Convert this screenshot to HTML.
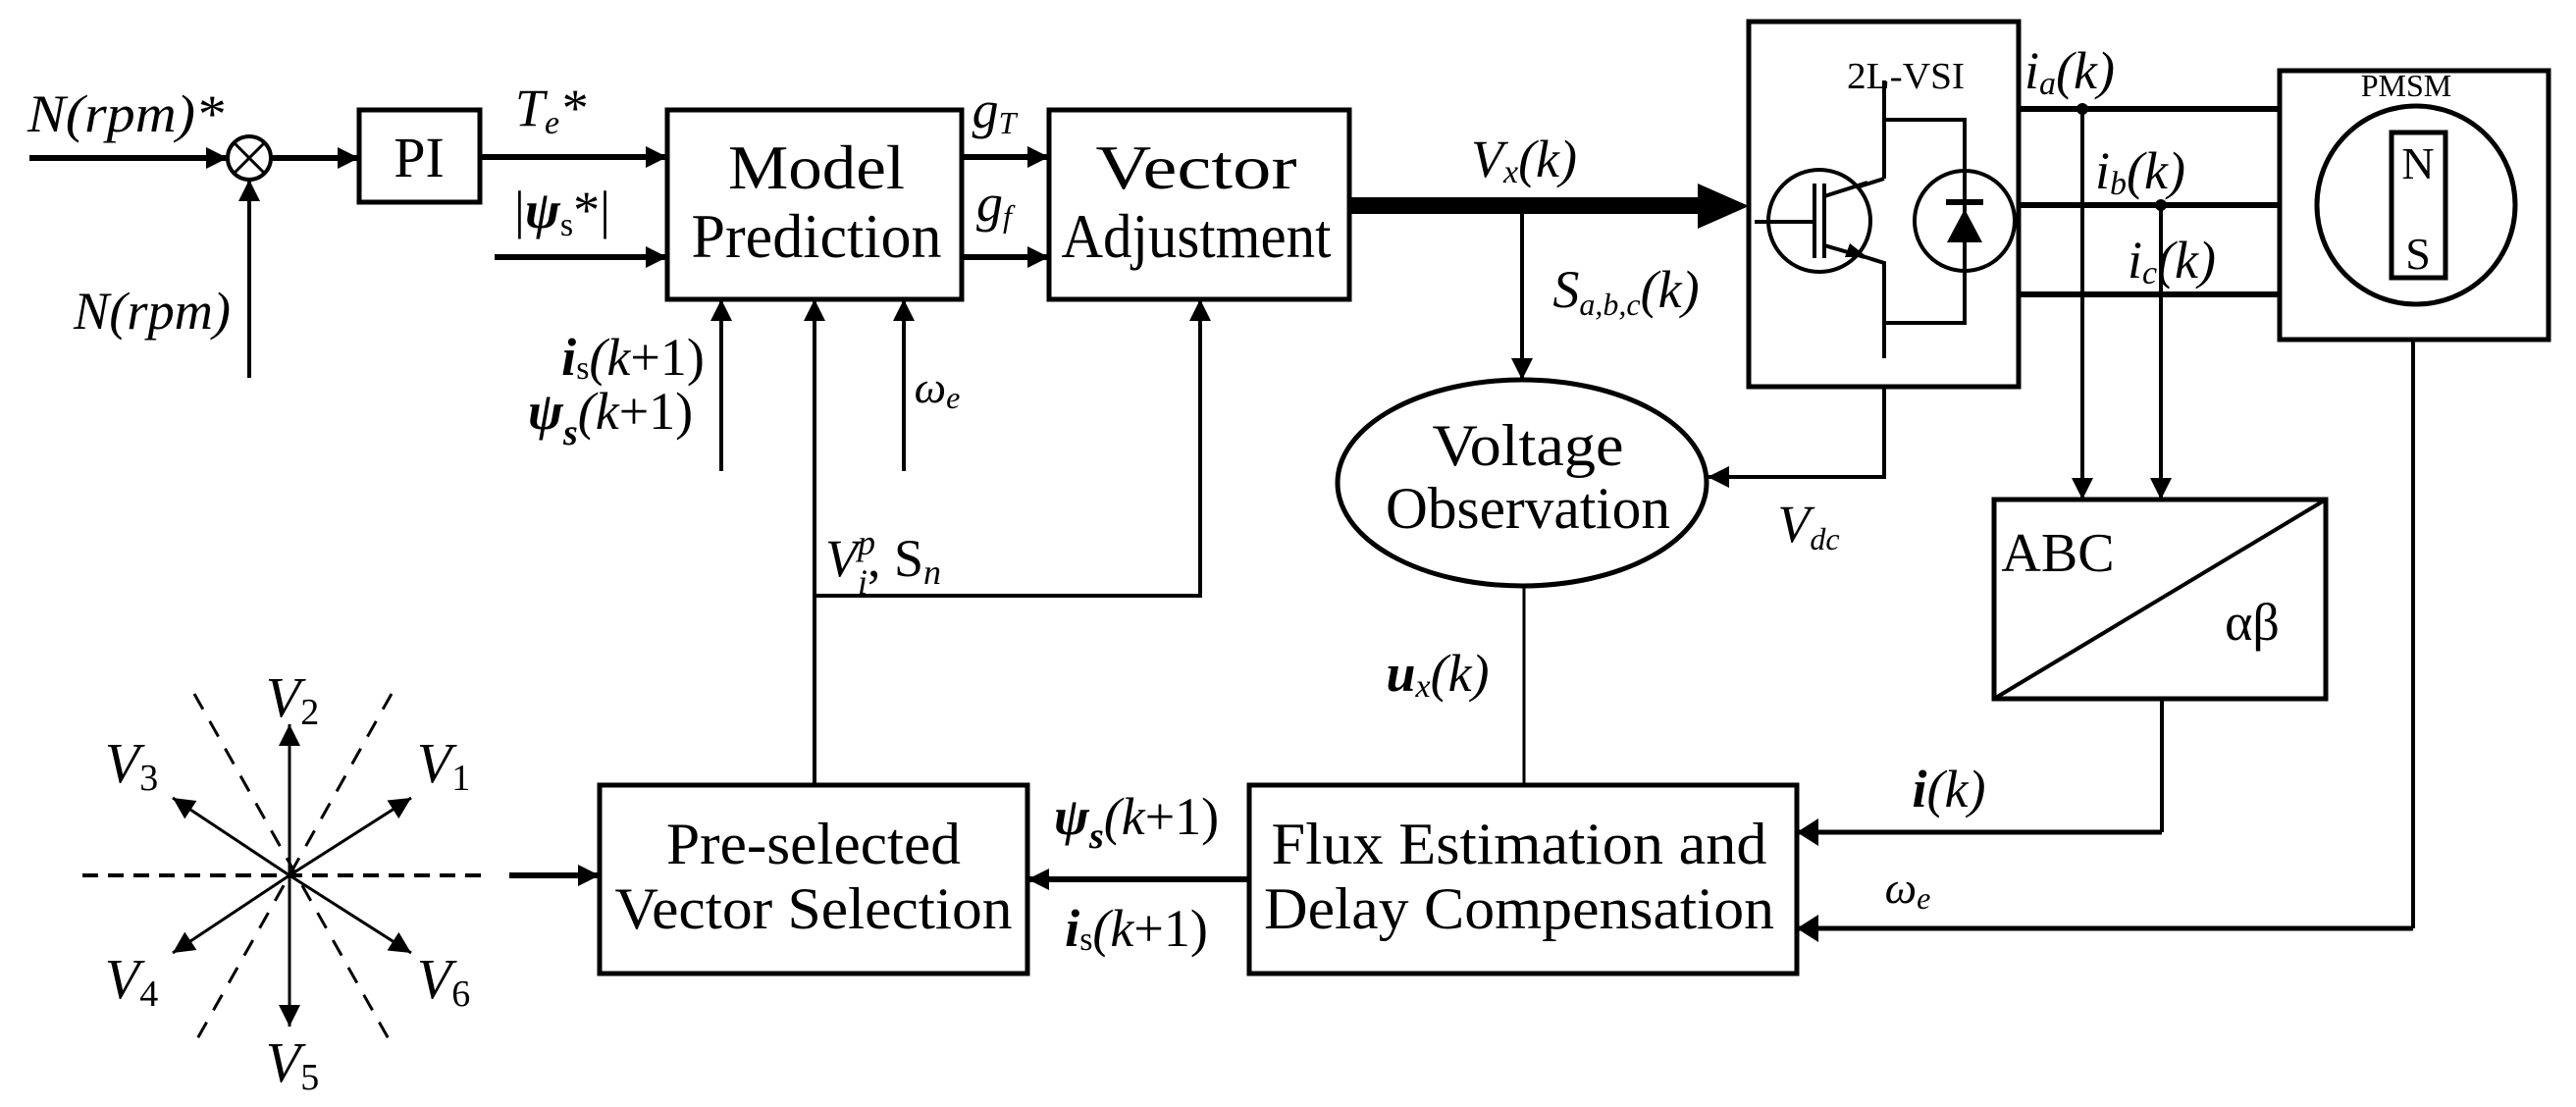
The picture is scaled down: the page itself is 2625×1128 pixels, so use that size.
<!DOCTYPE html>
<html><head><meta charset="utf-8"><style>
html,body{margin:0;padding:0;background:#fff}
svg{display:block}
text{font-family:"Liberation Serif",serif;fill:#000}
.i{font-style:italic}
</style></head><body>
<svg width="2625" height="1128" viewBox="0 0 2625 1128" xmlns="http://www.w3.org/2000/svg">
<defs>
<marker id="a" viewBox="0 0 10 10" refX="10" refY="5" markerWidth="24" markerHeight="22" markerUnits="userSpaceOnUse" orient="auto"><path d="M0,0 L10,5 L0,10 z"/></marker>
</defs>
<g stroke="#000" fill="none" stroke-width="5">
<rect x="366" y="112" width="123" height="94"/>
<rect x="680" y="112" width="300" height="193"/>
<rect x="1069" y="112" width="306" height="193"/>
<rect x="1782" y="22" width="275" height="372"/>
<rect x="2323" y="72" width="274" height="274"/>
<rect x="2032" y="509" width="338" height="203"/>
<line x1="2032" y1="712" x2="2370" y2="509" stroke-width="4"/>
<rect x="611" y="800" width="436" height="192"/>
<rect x="1273" y="800" width="558" height="192"/>
<ellipse cx="1551" cy="492" rx="188" ry="105"/>
<circle cx="254" cy="161" r="22" stroke-width="4"/>
<line x1="239" y1="146" x2="269" y2="176" stroke-width="3"/>
<line x1="269" y1="146" x2="239" y2="176" stroke-width="3"/>
<circle cx="2462" cy="209" r="101"/>
<rect x="2437" y="135" width="55" height="148"/>
</g>
<g stroke="#000" fill="none" stroke-width="6">
<line x1="30" y1="161" x2="232" y2="161" marker-end="url(#a)"/>
<line x1="276" y1="161" x2="366" y2="161" marker-end="url(#a)"/>
<line x1="489" y1="160" x2="680" y2="160" marker-end="url(#a)"/>
<line x1="504" y1="262" x2="680" y2="262" marker-end="url(#a)"/>
<line x1="980" y1="160" x2="1069" y2="160" marker-end="url(#a)"/>
<line x1="980" y1="262" x2="1069" y2="262" marker-end="url(#a)"/>
<line x1="2057" y1="111" x2="2323" y2="111"/>
<line x1="2057" y1="209" x2="2323" y2="209"/>
<line x1="2057" y1="300" x2="2323" y2="300"/>
<line x1="1831" y1="848" x2="2203" y2="848" stroke-width="5"/>
<line x1="1831" y1="946" x2="2459" y2="946" stroke-width="5"/>
</g>
<g stroke="#000" fill="none" stroke-width="4">
<line x1="254" y1="385" x2="254" y2="183" marker-end="url(#a)"/>
<line x1="735" y1="480" x2="735" y2="305" marker-end="url(#a)"/>
<line x1="830" y1="800" x2="830" y2="305" marker-end="url(#a)"/>
<line x1="921" y1="480" x2="921" y2="305" marker-end="url(#a)"/>
<polyline points="830,607 1223,607 1223,305" marker-end="url(#a)"/>
<line x1="1551" y1="210" x2="1551" y2="387" marker-end="url(#a)"/>
<polyline points="1920,394 1920,486 1740,486" marker-end="url(#a)"/>
<line x1="2122" y1="111" x2="2122" y2="509" marker-end="url(#a)"/>
<line x1="2202" y1="209" x2="2202" y2="509" marker-end="url(#a)"/>
<line x1="2203" y1="712" x2="2203" y2="848"/>
<line x1="2459" y1="346" x2="2459" y2="946"/>
<line x1="1553" y1="597" x2="1553" y2="800" stroke-width="3"/>
<line x1="1920" y1="82" x2="1920" y2="182"/>
<polyline points="1920,182 1863,200"/>
<polyline points="1863,250 1920,268 1920,365"/>
<polyline points="1920,122 2002,122 2002,329 1920,329"/>
<circle cx="1854" cy="225" r="52" fill="#fff"/>
<circle cx="2002" cy="225" r="51" fill="#fff"/>
<line x1="1788" y1="226" x2="1849" y2="226"/>
<line x1="1849" y1="187" x2="1849" y2="263"/>
<line x1="1859" y1="187" x2="1859" y2="263"/>
<line x1="1859" y1="200" x2="1903" y2="186"/>
<line x1="1859" y1="250" x2="1900" y2="262"/>
<line x1="2002" y1="175" x2="2002" y2="275"/>
<line x1="1983" y1="206" x2="2021" y2="206" stroke-width="6"/>
</g>
<path d="M1885,248 L1903,262 L1880,262 z"/>
<path d="M2002,213 L2020,247 L1984,247 z"/>
<circle cx="2122" cy="111" r="6"/>
<circle cx="2202" cy="209" r="6"/>
<rect x="1375" y="201" width="360" height="17"/>
<path d="M1730,187 L1782,210 L1730,233 z"/>
<g stroke="#000" fill="none" stroke-width="6">
<line x1="1273" y1="896" x2="1047" y2="896" marker-end="url(#a)"/>
<line x1="519" y1="892" x2="611" y2="892" marker-end="url(#a)"/>
</g>
<path d="M1831,848 L1853,834 L1853,862 z"/>
<path d="M1831,946 L1853,932 L1853,960 z"/>
<g stroke="#000" fill="none" stroke-width="3">
<line x1="84" y1="892" x2="494" y2="892" stroke-dasharray="16,10" stroke-width="4"/>
<line x1="198" y1="707" x2="399" y2="1064" stroke-dasharray="18,14"/>
<line x1="399" y1="707" x2="198" y2="1064" stroke-dasharray="18,14"/>
<line x1="295" y1="892" x2="295" y2="738" marker-end="url(#a)"/>
<line x1="295" y1="892" x2="295" y2="1046" marker-end="url(#a)"/>
<line x1="295" y1="892" x2="176" y2="813" marker-end="url(#a)"/>
<line x1="295" y1="892" x2="419" y2="813" marker-end="url(#a)"/>
<line x1="295" y1="892" x2="176" y2="971" marker-end="url(#a)"/>
<line x1="295" y1="892" x2="419" y2="971" marker-end="url(#a)"/>
</g>
<g font-size="54" text-anchor="middle">
<text x="128" y="134" class="i" textLength="200" lengthAdjust="spacingAndGlyphs">N(rpm)*</text>
<text x="155" y="335" class="i" textLength="160" lengthAdjust="spacingAndGlyphs">N(rpm)</text>
<text x="427" y="180" font-size="58">PI</text>
<text x="561" y="128" class="i">T<tspan font-size="34" dy="8">e</tspan><tspan dy="-8">*</tspan></text>
<text x="573" y="232">|<tspan class="i" font-weight="bold">ψ</tspan><tspan font-size="34" dy="8">s</tspan><tspan dy="-8">*|</tspan></text>
<text x="832" y="192" font-size="64" textLength="180" lengthAdjust="spacingAndGlyphs">Model</text>
<text x="832" y="262" font-size="64" textLength="255" lengthAdjust="spacingAndGlyphs">Prediction</text>
<text x="1013" y="130" class="i">g<tspan font-size="32" dy="6">T</tspan></text>
<text x="1013" y="225" class="i">g<tspan font-size="32" dy="6">f</tspan></text>
<text x="1219" y="192" font-size="64" textLength="205" lengthAdjust="spacingAndGlyphs">Vector</text>
<text x="1219" y="262" font-size="64" textLength="275" lengthAdjust="spacingAndGlyphs">Adjustment</text>
<text x="1553" y="180" class="i">V<tspan font-size="34" dy="6">x</tspan><tspan dy="-6">(k)</tspan></text>
<text x="1657" y="313" class="i">S<tspan font-size="32" dy="8">a,b,c</tspan><tspan dy="-8">(k)</tspan></text>
<text x="1942" y="90" font-size="38" textLength="120" lengthAdjust="spacingAndGlyphs">2L-VSI</text>
<text x="2452" y="98" font-size="32">PMSM</text>
<text x="2464" y="182" font-size="46">N</text>
<text x="2464" y="274" font-size="46">S</text>
<text x="2109" y="90" class="i">i<tspan font-size="34" dy="6">a</tspan><tspan dy="-6">(k)</tspan></text>
<text x="2181" y="192" class="i">i<tspan font-size="34" dy="6">b</tspan><tspan dy="-6">(k)</tspan></text>
<text x="2213" y="283" class="i">i<tspan font-size="34" dy="6">c</tspan><tspan dy="-6">(k)</tspan></text>
<text x="645" y="382" class="i"><tspan font-weight="bold">i</tspan><tspan font-size="34" dy="4" font-style="normal">s</tspan><tspan dy="-4">(k</tspan><tspan font-style="normal">+1)</tspan></text>
<text x="622" y="437" class="i"><tspan font-weight="bold">ψ</tspan><tspan font-size="38" dy="16" font-weight="bold">s</tspan><tspan dy="-16">(k</tspan><tspan font-style="normal">+1)</tspan></text>
<text x="955" y="410" class="i" font-size="46">ω<tspan font-size="32" dy="6">e</tspan></text>
<text x="1557" y="474" font-size="60" textLength="195" lengthAdjust="spacingAndGlyphs">Voltage</text>
<text x="1557" y="538" font-size="60" textLength="290" lengthAdjust="spacingAndGlyphs">Observation</text>
<text x="1843" y="552" class="i">V<tspan font-size="32" dy="8">dc</tspan></text>
<text x="900" y="587" class="i">V<tspan font-size="36" dy="-22">p</tspan><tspan font-size="36" dx="-18" dy="40">i</tspan><tspan dy="-18" font-style="normal">, S</tspan><tspan font-size="36" dy="8">n</tspan></text>
<text x="2097" y="582" font-size="56">ABC</text>
<text x="2295" y="652" font-size="54">αβ</text>
<text x="1465" y="704" class="i"><tspan font-weight="bold">u</tspan><tspan font-size="34" dy="6">x</tspan><tspan dy="-6">(k)</tspan></text>
<text x="1986" y="822" class="i"><tspan font-weight="bold">i</tspan>(k)</text>
<text x="1944" y="920" class="i" font-size="46">ω<tspan font-size="32" dy="6">e</tspan></text>
<text x="1158" y="850" class="i"><tspan font-weight="bold">ψ</tspan><tspan font-size="38" dy="14" font-weight="bold">s</tspan><tspan dy="-14">(k</tspan><tspan font-style="normal">+1)</tspan></text>
<text x="1158" y="964" class="i"><tspan font-weight="bold">i</tspan><tspan font-size="34" dy="4" font-style="normal">s</tspan><tspan dy="-4">(k</tspan><tspan font-style="normal">+1)</tspan></text>
<text x="829" y="880" font-size="60" textLength="300" lengthAdjust="spacingAndGlyphs">Pre-selected</text>
<text x="829" y="946" font-size="60" textLength="405" lengthAdjust="spacingAndGlyphs">Vector Selection</text>
<text x="1548" y="880" font-size="60" textLength="505" lengthAdjust="spacingAndGlyphs">Flux Estimation and</text>
<text x="1548" y="946" font-size="60" textLength="520" lengthAdjust="spacingAndGlyphs">Delay Compensation</text>
<text x="298" y="730" class="i" font-size="58">V<tspan font-size="38" dy="8" font-style="normal">2</tspan></text>
<text x="452" y="797" class="i" font-size="58">V<tspan font-size="38" dy="8" font-style="normal">1</tspan></text>
<text x="134" y="797" class="i" font-size="58">V<tspan font-size="38" dy="8" font-style="normal">3</tspan></text>
<text x="134" y="1017" class="i" font-size="58">V<tspan font-size="38" dy="8" font-style="normal">4</tspan></text>
<text x="452" y="1017" class="i" font-size="58">V<tspan font-size="38" dy="8" font-style="normal">6</tspan></text>
<text x="298" y="1102" class="i" font-size="58">V<tspan font-size="38" dy="8" font-style="normal">5</tspan></text>
</g>
</svg>
</body></html>
